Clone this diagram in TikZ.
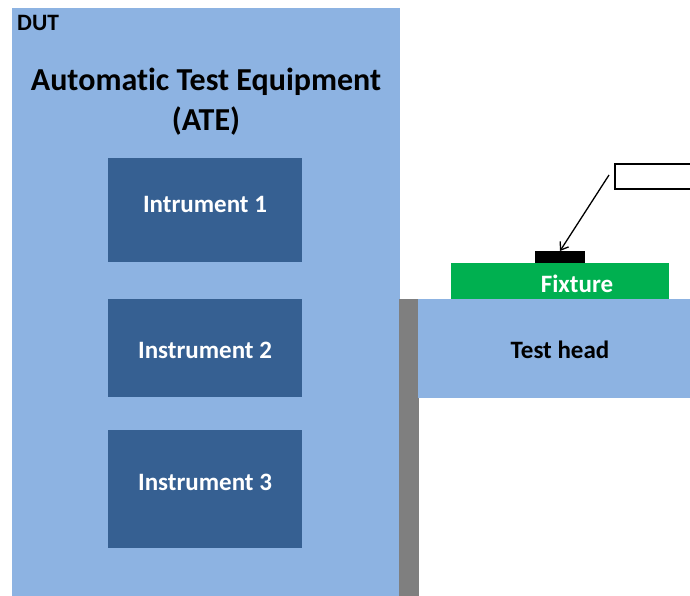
\documentclass[tikz,border=0pt]{standalone}
\usepackage{fontspec}
\setmainfont{Carlito}[Ligatures=NoCommon]
\usetikzlibrary{arrows.meta}
\definecolor{ateblue}{HTML}{8DB3E2}
\definecolor{instblue}{HTML}{366092}
\definecolor{fixgreen}{HTML}{00B050}
\definecolor{wallgray}{HTML}{7F7F7F}
\tikzset{
  block/.style={inner sep=0pt, outer sep=0pt, anchor=north west},
  instrument/.style={block, fill=instblue, minimum width=194pt, minimum height=#1},
  lbl/.style={font=\bfseries\fontsize{25}{30}\selectfont, inner sep=0pt}
}
\begin{document}
\begin{tikzpicture}[x=1pt, y=-1pt]
  \useasboundingbox (0,0) rectangle (690,596);
  \clip (0,0) rectangle (690,596);
  \fill[white] (0,0) rectangle (690,596);

  % equipment cabinet
  \node[block, fill=ateblue, minimum width=388pt, minimum height=600pt] (ate) at (12,8) {};
  \node[lbl, anchor=north west, font=\bfseries\fontsize{23.5}{28}\selectfont] (dut) at (17,15) {DUT};
  \node[lbl, align=center, font=\bfseries\fontsize{32}{40}\selectfont] (title) at (206,102)
    {Automatic Test Equipment\\(ATE)};

  % instruments
  \node[instrument=104pt] (i1) at (108,158) {};
  \node[lbl, text=white] at (205,204) {Intrument 1};
  \node[instrument=98pt] (i2) at (108,299) {};
  \node[lbl, text=white] at (205,350) {Instrument 2};
  \node[instrument=118pt] (i3) at (108,430) {};
  \node[lbl, text=white] at (205,482) {Instrument 3};

  % wall and test head
  \node[block, fill=wallgray, minimum width=20pt, minimum height=300pt] (wall) at (399,299) {};
  \node[block, fill=ateblue, minimum width=280pt, minimum height=99pt] (head) at (418,299) {};
  \node[lbl] at (560,350) {Test head};

  % fixture with device
  \node[block, fill=fixgreen, minimum width=218pt, minimum height=36pt] (fix) at (451,263) {};
  \node[lbl, text=white] at (577,284) {Fixture};
  \node[block, fill=black, minimum width=50pt, minimum height=12pt] (chip) at (535,251) {};

  % callout
  \node[block, draw=black, line width=1.5pt, fill=white, minimum width=120pt, minimum height=25pt] (callout) at (615,164) {};
  \coordinate (tail) at (609,175);
  \draw[line width=1.3pt, -{Straight Barb[length=7pt,width=10pt]}] (tail) -- (chip.north);
\end{tikzpicture}
\end{document}
